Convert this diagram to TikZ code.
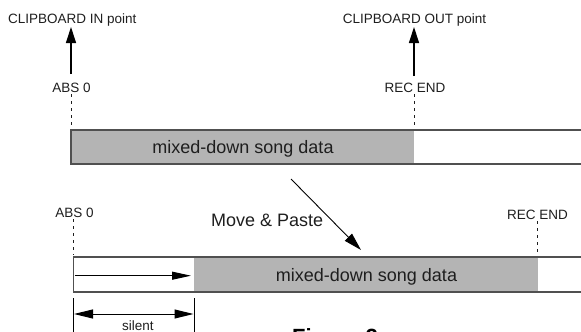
\documentclass[tikz,border=0pt]{standalone}
\usepackage{fontspec}
\setmainfont{Liberation Sans}
\usetikzlibrary{arrows.meta}
\definecolor{barline}{RGB}{80,80,80}
\definecolor{barfill}{RGB}{180,180,180}
\definecolor{ink}{RGB}{30,30,30}
\tikzset{
  smalllabel/.style={font=\fontsize{13.5}{14}\selectfont, text=ink, inner sep=0pt, anchor=base},
  biglabel/.style={font=\fontsize{18}{19}\selectfont, text=ink, inner sep=0pt, anchor=base},
  grayfill/.style={fill=barfill, draw=none},
  barframe/.style={draw=barline, line width=1.3pt},
  marker/.style={draw=ink, line width=1pt, dash pattern=on 3pt off 4pt},
  uparrow/.style={draw=black, line width=1.2pt, -{Triangle[length=16pt,width=10pt]}},
  diagarrow/.style={draw=black, line width=0.9pt, -{Triangle[length=18pt,width=10pt]}},
  slimarrow/.style={draw=black, line width=1pt, -{Triangle[length=19pt,width=8pt]}},
  dimarrow/.style={draw=black, line width=1pt, {Triangle[length=19pt,width=9pt]}-{Triangle[length=19pt,width=9pt]}},
  tick/.style={draw=black, line width=1pt}
}
\begin{document}
\begin{tikzpicture}[x=1pt,y=-1pt]
\useasboundingbox (0,0) rectangle (581,332);
\clip (0,0) rectangle (581,332);
% ---------- top bar ----------
\fill[grayfill] (71,130) rectangle (414,164);
\coordinate (t0top) at (71,130);
\coordinate (t0bot) at (71,164);
\coordinate (tEtop) at (581,130);
\coordinate (tEbot) at (581,164);
\draw[barframe] (tEtop) -- (t0top) -- (t0bot) -- (tEbot);
\node[biglabel] (topdata) at (243,153) {mixed-down song data};
% ABS 0 top
\node[smalllabel] (absA) at (71.5,92) {ABS 0};
\coordinate (absAd1) at (71,94);
\coordinate (absAd2) at (71,128);
\draw[marker] (absAd1) -- (absAd2);
\coordinate (inS) at (71,74);
\node[smalllabel, anchor=base west] (cin) at (8,23.5) {CLIPBOARD IN point};
\coordinate (inT) at (71,27);
\draw[uparrow] (inS) -- (inT);
% REC END top
\node[smalllabel] (recA) at (415,92) {REC END};
\coordinate (recAd1) at (414,94);
\coordinate (recAd2) at (414,128);
\draw[marker] (recAd1) -- (recAd2);
\coordinate (outS) at (414,76);
\coordinate (outT) at (414,27);
\node[smalllabel] (cout) at (414.5,23.5) {CLIPBOARD OUT point};
\draw[uparrow] (outS) -- (outT);
% ---------- move & paste ----------
\node[biglabel, anchor=base west] (mp) at (211,226) {Move \& Paste};
\coordinate (mpS) at (291,179);
\coordinate (mpT) at (361,250);
\draw[diagarrow] (mpS) -- (mpT);
% ---------- bottom bar ----------
\fill[grayfill] (194,257) rectangle (537.5,292);
\coordinate (b0top) at (73.5,257);
\coordinate (b0bot) at (73.5,292);
\coordinate (bEtop) at (581,257);
\coordinate (bEbot) at (581,292);
\draw[barframe] (bEtop) -- (b0top) -- (b0bot) -- (bEbot);
\node[biglabel] (botdata) at (366.5,281) {mixed-down song data};
\coordinate (shS) at (74.5,275.7);
\coordinate (shT) at (191,275.7);
\draw[slimarrow] (shS) -- (shT);
% ABS 0 bottom
\node[smalllabel] (absB) at (74.5,217) {ABS 0};
\coordinate (absBd1) at (73.7,219);
\coordinate (absBd2) at (73.7,255);
\draw[marker] (absBd1) -- (absBd2);
% REC END bottom
\node[smalllabel] (recB) at (537.5,219) {REC END};
\coordinate (recBd1) at (537,221);
\coordinate (recBd2) at (537,255);
\draw[marker] (recBd1) -- (recBd2);
% silent dimension
\coordinate (s1a) at (73.5,298);
\coordinate (s1b) at (73.5,334);
\coordinate (s2a) at (194,298);
\coordinate (s2b) at (194,334);
\draw[tick] (s1a) -- (s1b);
\draw[tick] (s2a) -- (s2b);
\coordinate (dL) at (74,314);
\coordinate (dR) at (193.5,314);
\draw[dimarrow] (dL) -- (dR);
\node[smalllabel] (sil) at (138,330) {silent};
% figure caption (cut off at the lower edge, as in the reference)
\node[font=\bfseries\fontsize{22}{24}\selectfont, inner sep=0pt, anchor=base west] (fig) at (292,344) {Figure 2};
\end{tikzpicture}
\end{document}
